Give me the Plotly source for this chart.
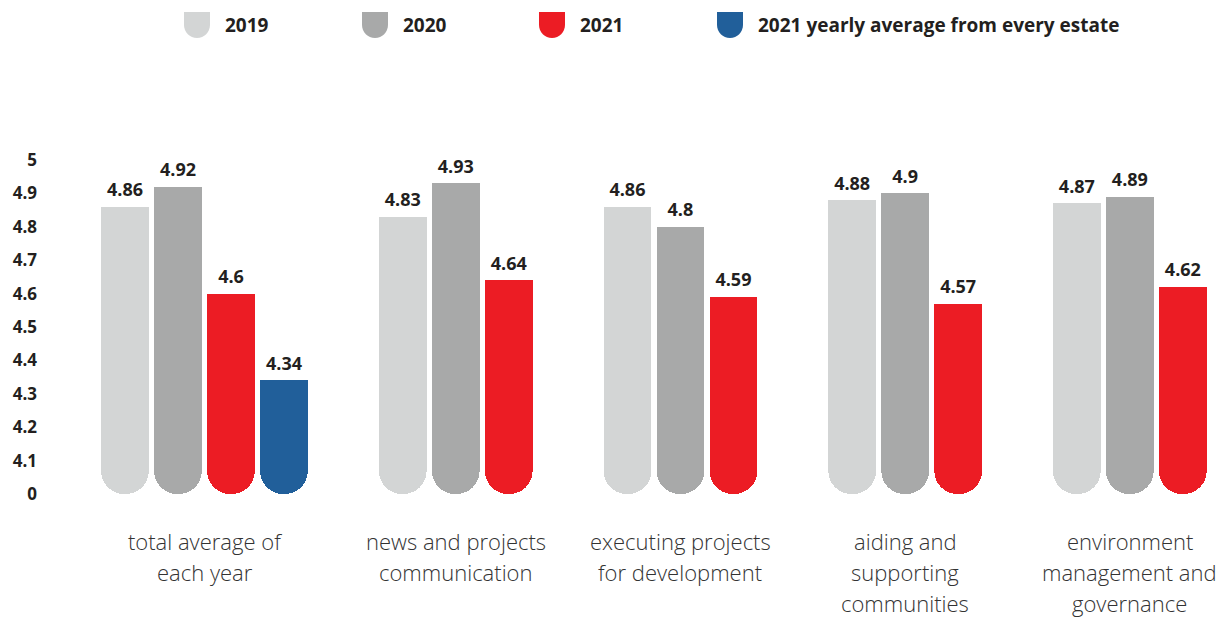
import plotly.graph_objects as go

# ---------------- data ----------------
categories = [
    ["total average of", "each year"],
    ["news and projects", "communication"],
    ["executing projects", "for development"],
    ["aiding and", "supporting", "communities"],
    ["environment", "management and", "governance"],
]
series_names = ["2019", "2020", "2021", "2021 yearly average from every estate"]
values_2019 = [4.86, 4.83, 4.86, 4.88, 4.87]
values_2020 = [4.92, 4.93, 4.80, 4.90, 4.89]
values_2021 = [4.60, 4.64, 4.59, 4.57, 4.62]
values_avg = [4.34, None, None, None, None]
series_values = [values_2019, values_2020, values_2021, values_avg]
colors = ["#d3d5d5", "#a8a9a9", "#ec1c24", "#215f9a"]

tick_vals = [4.0, 4.1, 4.2, 4.3, 4.4, 4.5, 4.6, 4.7, 4.8, 4.9, 5.0]
tick_text = ["0", "4.1", "4.2", "4.3", "4.4", "4.5", "4.6", "4.7", "4.8", "4.9", "5"]
AXIS_BASE, AXIS_TOP = 4.0, 5.0

# ---------------- layout geometry ----------------
W, H = 1229, 620
ML, MR, MT, MB = 60, 0, 160, 126
PW, PH = W - ML - MR, H - MT - MB
SLOT_PX = 53.0
GAP = 1.24
BAR_W = 0.9
FONT = "Open Sans"
TXT = "#231f20"

# reversed axis: u = AXIS_TOP - value (u = 0 at the top, u = 1 at the bottom)
def u(v):
    return AXIS_TOP - v

n_per_group = [sum(1 for s in series_values if s[i] is not None) for i in range(len(categories))]
group_start = []
pos = 0.0
for n in n_per_group:
    group_start.append(pos)
    pos += n + GAP
group_center = [gs + (n - 1) / 2 for gs, n in zip(group_start, n_per_group)]

x0 = -(125 - ML) / SLOT_PX
x1 = x0 + PW / SLOT_PX

fig = go.Figure()
# invisible spacers (from top of axis down to each value), then visible bars stacked below
spacer_x, spacer_len = [], []
bar_traces = []
for s_idx, (name, vals, col) in enumerate(zip(series_names, series_values, colors)):
    xs, lens, labels = [], [], []
    for g_idx, v in enumerate(vals):
        if v is None:
            continue
        x = group_start[g_idx] + s_idx
        xs.append(x)
        spacer_x.append(x)
        spacer_len.append(u(v))
        lens.append(v - AXIS_BASE)
        labels.append(v)
    bar_traces.append((name, col, xs, lens, labels))

fig.add_trace(go.Bar(x=spacer_x, y=spacer_len, width=BAR_W,
                     marker=dict(color="rgba(0,0,0,0)", line=dict(width=0)),
                     showlegend=False, hoverinfo="skip"))
for name, col, xs, lens, labels in bar_traces:
    fig.add_trace(go.Bar(
        x=xs, y=lens, width=BAR_W, name=name,
        marker=dict(color=col, cornerradius="50%", line=dict(width=0)),
        showlegend=False, hoverinfo="skip",
    ))
for name, col, xs, lens, labels in bar_traces:
    fig.add_trace(go.Scatter(
        x=xs, y=[u(v) for v in labels], mode="markers+text",
        marker=dict(size=8, opacity=0),
        text=[("%g" % v) for v in labels],
        textposition="top center",
        textfont=dict(family=FONT, size=18, color=TXT, weight="bold"),
        showlegend=False, hoverinfo="skip", cliponaxis=False,
    ))

# category labels, one annotation per line
LINE0, LINE_STEP = 47, 31
for gc, lines in zip(group_center, categories):
    for k, line in enumerate(lines):
        fig.add_annotation(
            x=gc, xref="x", y=0, yref="paper", yanchor="middle",
            yshift=-(LINE0 + k * LINE_STEP), text=line, showarrow=False,
            font=dict(family=FONT, size=22, color="#333333", weight=300),
        )

# custom legend
def px2paper(px, py):
    return (px - ML) / PW, (H - MB - py) / PH

legend_icon_x = [184, 362, 539, 717]
legend_top = 12
ICON, R, K = 26, 13, 0.5523
for name, col, ix in zip(series_names, colors, legend_icon_x):
    xa, xb, xc = ix, ix + ICON, ix + ICON / 2
    ya, ym, yb = legend_top, legend_top + ICON - R, legend_top + ICON
    pts = [
        ("M", [(xa, ya)]), ("L", [(xb, ya)]), ("L", [(xb, ym)]),
        ("C", [(xb, ym + K * R), (xc + K * R, yb), (xc, yb)]),
        ("C", [(xc - K * R, yb), (xa, ym + K * R), (xa, ym)]),
    ]
    path = ""
    for cmd, plist in pts:
        path += cmd + " " + " ".join("%.5f,%.5f" % px2paper(px, py) for px, py in plist) + " "
    path += "Z"
    fig.add_shape(type="path", path=path, xref="paper", yref="paper",
                  fillcolor=col, line=dict(width=0))
    tx, ty = px2paper(ix + ICON + 13, legend_top + ICON / 2)
    fig.add_annotation(x=tx, y=ty, xref="paper", yref="paper", xanchor="left",
                       yanchor="middle", text=name, showarrow=False,
                       font=dict(family=FONT, size=19, color=TXT, weight="bold"))

fig.update_layout(
    width=W, height=H, margin=dict(l=ML, r=MR, t=MT, b=MB),
    plot_bgcolor="white", paper_bgcolor="white", barmode="stack",
    font=dict(family=FONT, color=TXT),
    xaxis=dict(range=[x0, x1], showticklabels=False, showgrid=False,
               zeroline=False, showline=False, ticks=""),
    yaxis=dict(range=[u(AXIS_BASE), u(AXIS_TOP)],
               tickvals=[u(t) for t in tick_vals], ticktext=tick_text,
               showgrid=False, zeroline=False, showline=False, ticks="",
               ticklabelstandoff=22,
               tickfont=dict(family=FONT, size=17, color=TXT, weight="bold")),
)

fig.write_html("out.html")
